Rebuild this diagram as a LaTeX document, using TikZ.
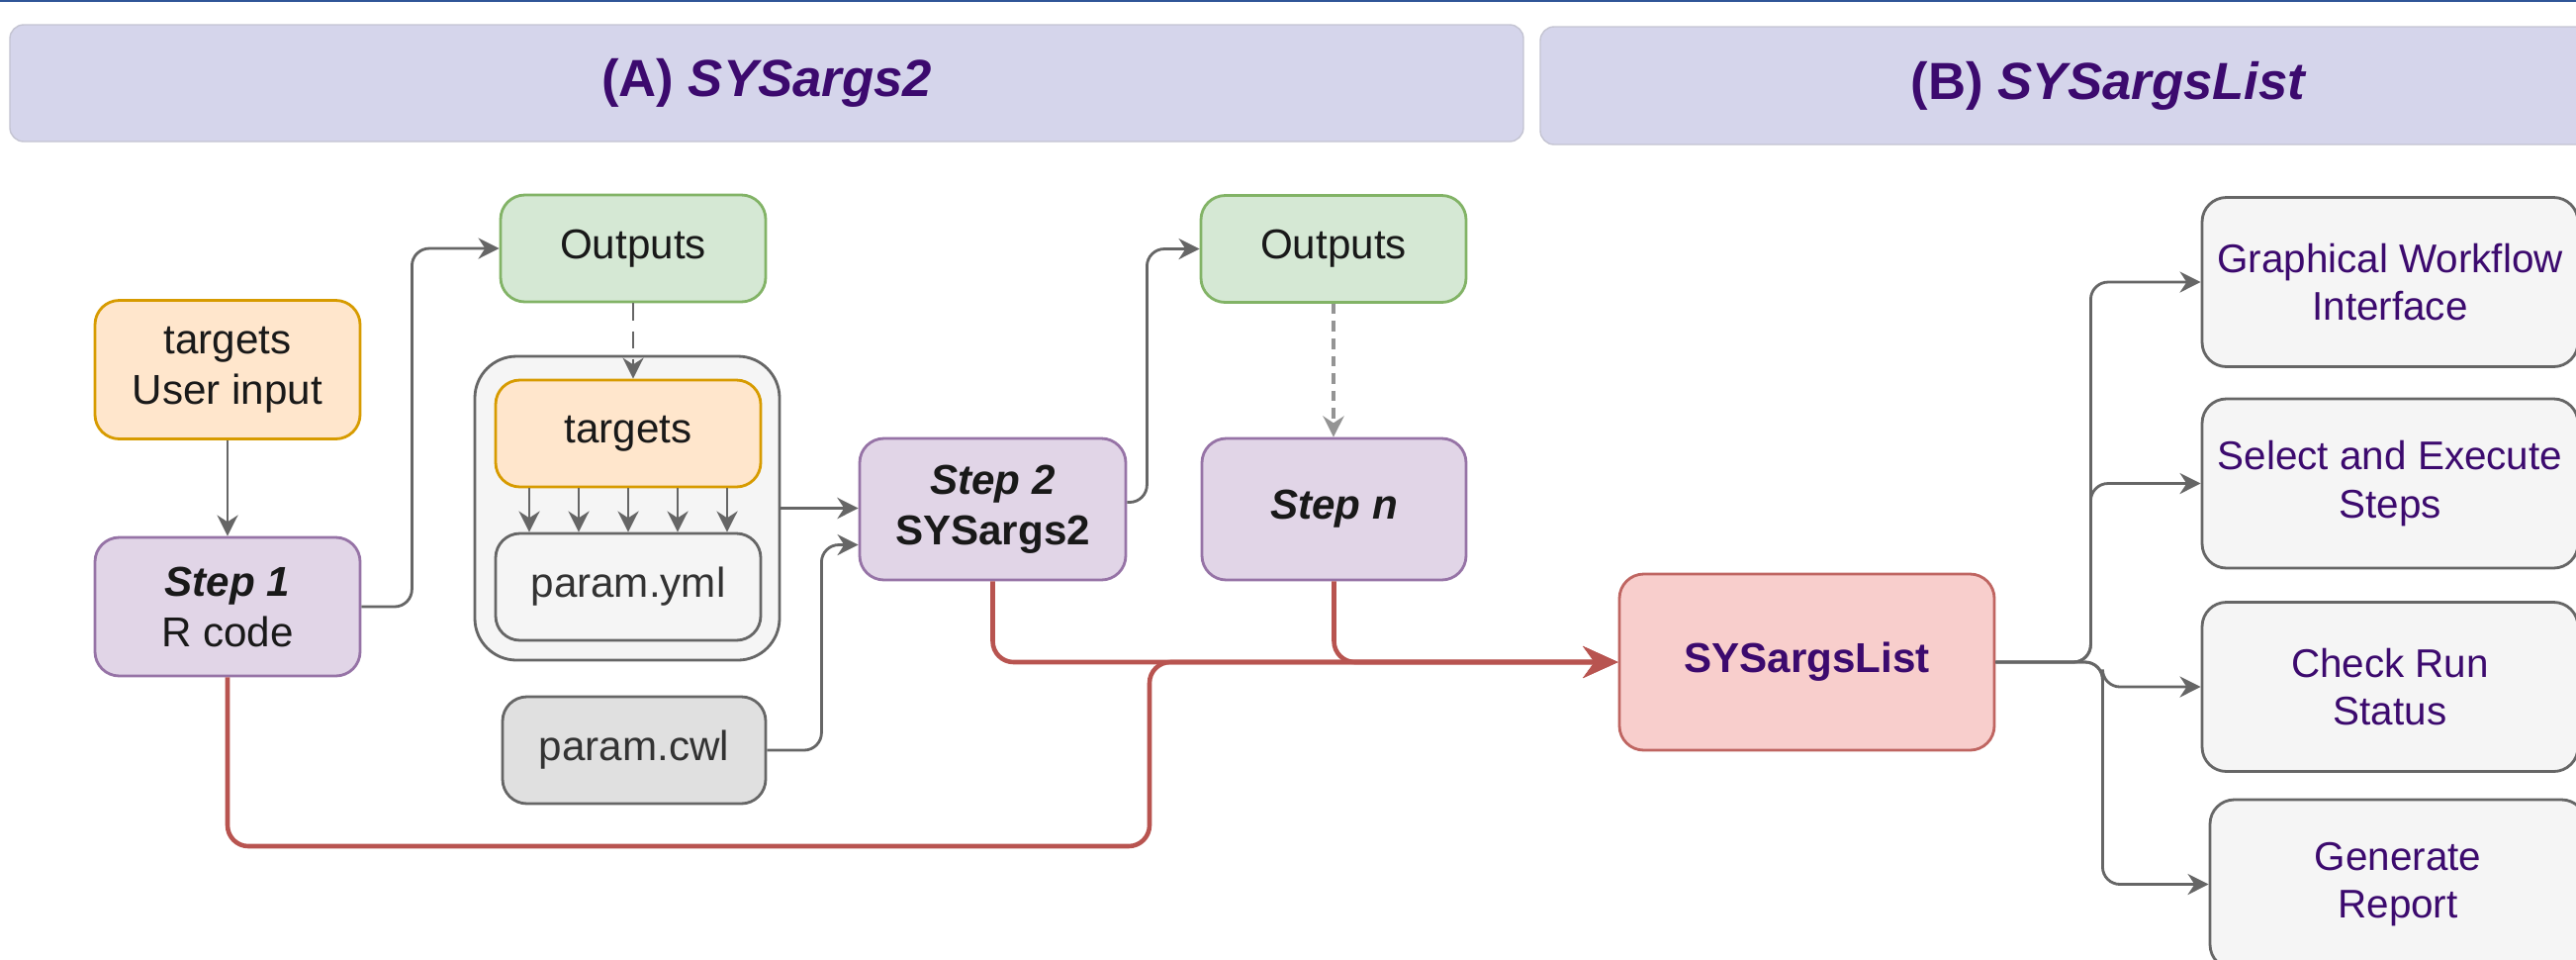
\documentclass[tikz,border=0pt]{standalone}
\usepackage{fontspec}
\setmainfont{Liberation Sans}
\usepackage{tikz}
\usetikzlibrary{arrows,arrows.meta,shapes,calc,positioning}
\definecolor{lavanda}{RGB}{213, 213, 235}
\definecolor{bordeLavanda}{RGB}{196, 196, 210}
\definecolor{indigo}{RGB}{60, 10, 110}
\definecolor{naranjaClaro}{RGB}{255, 230, 204}
\definecolor{naranja}{RGB}{215, 155, 0}
\definecolor{moradoClaro}{RGB}{225, 213, 231}
\definecolor{morado}{RGB}{150, 115, 166}
\definecolor{verdeClaro}{RGB}{213, 232, 212}
\definecolor{verde}{RGB}{130, 179, 102}
\definecolor{rojoClaro}{RGB}{248, 206, 204}
\definecolor{rojo}{RGB}{184, 84, 80}
\definecolor{grisClaro}{RGB}{245, 245, 245}
\definecolor{grisMedio}{RGB}{224, 224, 224}
\definecolor{grisOscuro}{RGB}{102, 102, 102}
\definecolor{azulBorde}{RGB}{47, 85, 151}
\tikzstyle{edge}  =[->, >={Stealth[length=6pt,width=6pt]},
                    line width=0.8pt, grisOscuro, rounded corners=5pt]
\tikzstyle{dedge} =[edge, dash pattern=on 5pt off 3pt]
\tikzstyle{redge} =[->, >={Stealth[length=10pt,width=9pt]},
                    line width=1.3pt, rojo, rounded corners=6pt]
\tikzstyle{caja}  =[rectangle, draw, rounded corners=7pt,
                    line width=0.8pt, inner sep=2pt, align=center,
                    minimum width=2.68cm, minimum height=1.08cm,
                    text=black!90, font=\fontsize{12}{14.5}\selectfont]
\tikzstyle{titulo}=[rectangle, draw=bordeLavanda, fill=lavanda,
                    rounded corners=4pt, text=indigo,
                    font=\fontsize{15}{18}\selectfont\bfseries]
\tikzstyle{entrada}=[caja, draw=naranja, fill=naranjaClaro]
\tikzstyle{paso}   =[caja, draw=morado, fill=moradoClaro]
\tikzstyle{salida} =[caja, draw=verde, fill=verdeClaro]
\tikzstyle{param}  =[caja, draw=grisOscuro, fill=grisClaro, text=black!80]
\tikzstyle{lista}  =[caja, draw=rojo!90, fill=rojoClaro, text=indigo,
                    minimum width=3.79cm, minimum height=1.78cm,
                    font=\fontsize{12}{14.5}\selectfont\bfseries]
\tikzstyle{accion} =[caja, draw=grisOscuro, fill=grisClaro, text=indigo,
                    minimum width=3.8cm, minimum height=1.71cm,
                    font=\fontsize{11.5}{13.8}\selectfont]

\begin{document}
\begin{tikzpicture}
    \useasboundingbox (0,0) rectangle (26.04,-9.69);
    \draw[azulBorde, line width=0.6pt] (0,-0.01) -- (26.04,-0.01);

    % encabezados
    \draw (7.75,-0.84) node(hA)[titulo, minimum width=15.3cm,
        minimum height=1.18cm] {(A) \textit{SYSargs2}};
    \draw (21.32,-0.865) node(hB)[titulo, minimum width=11.5cm,
        minimum height=1.19cm] {(B) \textit{SYSargsList}};

    % (A) SYSargs2
    \draw (2.30,-3.735) node(tgt)[entrada, minimum height=1.40cm]
        {targets\\User input};
    \draw (2.30,-6.13) node(step1)[paso, minimum height=1.40cm]
        {\textbf{\textit{Step 1}}\\R code};
    \draw (6.40,-2.51) node(out1)[salida]{Outputs};
    \draw (6.34,-5.135) node(cont)[param, rounded corners=12pt,
        minimum width=3.08cm, minimum height=3.07cm]{};
    \draw (6.35,-4.38) node(tgt2)[entrada]{targets};
    \draw (6.35,-5.93) node(yml)[param]{param.yml};
    \draw (6.41,-7.58) node(cwl)[param, fill=grisMedio,
        minimum width=2.66cm]{param.cwl};
    \draw (10.035,-5.145) node(step2)[paso, minimum width=2.69cm,
        minimum height=1.43cm]{\textbf{\textit{Step 2}}\\\textbf{SYSargs2}};
    \draw (13.48,-2.515) node(out2)[salida]{Outputs};
    \draw (13.485,-5.145) node(stepn)[paso, minimum width=2.67cm,
        minimum height=1.43cm]{\textbf{\textit{Step n}}};

    % (B) SYSargsList
    \draw (18.265,-6.69) node(sal)[lista]{SYSargsList};
    \foreach \i/\x/\y/\t in {1/24.16/-2.85/{Graphical Workflow\\Interface},
        2/24.16/-4.885/{Select and Execute\\Steps},
        3/24.16/-6.94/{Check Run\\Status},
        4/24.24/-8.935/{Generate\\Report}}
        \draw (\x,\y) node(r\i)[accion]{\t};

    \draw[edge] (tgt) -- (step1);
    \draw[edge] (step1.east) -- ++(0.51,0) |- (out1.west);
    \draw[dedge] (out1.south) -- (out1.south |- tgt2.north);
    \foreach \dx in {-1,-0.5,0,0.5,1}
        \draw[edge] ([xshift=\dx cm]tgt2.south) -- ([xshift=\dx cm]yml.north);
    \draw[edge, line width=1pt] (cont.east) -- (cont.east -| step2.west);
    \draw[edge] (cwl.east) -- ++(0.55,0) |- ([yshift=-0.36cm]step2.west);
    \draw[edge] ([yshift=0.07cm]step2.east) -- ++(0.2,0) |- (out2.west);
    \draw[edge, grisOscuro!70, line width=1pt, dash pattern=on 3pt off 2pt]
        (out2.south) -- (out2.south |- stepn.north);

    \coordinate (cruce) at (11.62,-8.55);
    \draw[redge] (step1.south) |- (cruce) |- (sal.west);
    \draw[redge] (step2.south) |- (sal.west);
    \draw[redge] (stepn.south) |- (sal.west);

    \foreach \i/\d in {1/0.96,2/0.96,3/1.08,4/1.08}
        \draw[edge] (sal.east) -- ++(\d,0) |- (r\i.west);
\end{tikzpicture}
\end{document}
